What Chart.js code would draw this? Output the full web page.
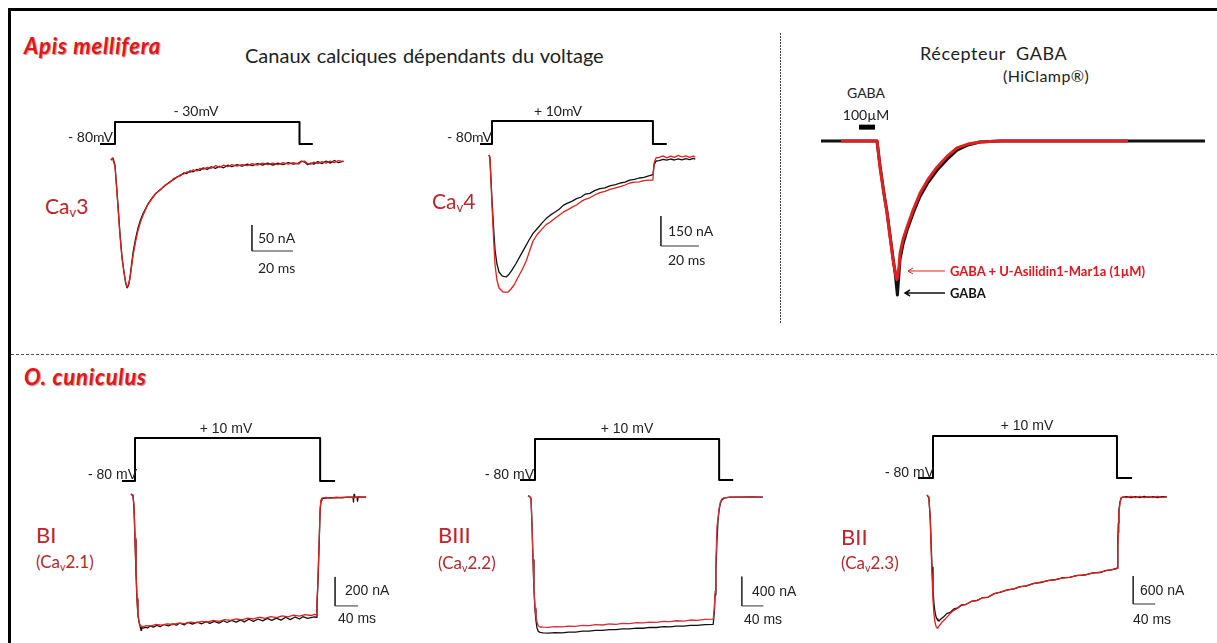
<!DOCTYPE html>
<html lang="fr">
<head>
<meta charset="utf-8">
<title>Canaux calciques et récepteur GABA</title>
<script src="https://cdn.jsdelivr.net/npm/chart.js@4.4.1/dist/chart.umd.min.js"></script>
<style>
  body { margin: 0; background: #fff; }
  #page { position: relative; width: 1217px; height: 643px; overflow: hidden; background: #fff; font-family: Lato, "Open Sans", sans-serif; }
  .rule { position: absolute; }
  .lbl { position: absolute; white-space: nowrap; line-height: 1; color: #222; }
  .lbl sub { font-size: 0.62em; vertical-align: -0.3em; line-height: 0; }
  .arial { font-family: "Liberation Sans", Arial, sans-serif; }
  .species { font-weight: 700; font-style: italic; color: #e3151c; letter-spacing: 0.8px; text-shadow: 1px 1px 1px rgba(90,0,0,0.45); }
  .chan { color: #b8262e; }
  canvas { position: absolute; }
</style>
</head>
<body>
<div id="page">
  <div class="rule" style="left:8px;top:8px;width:1209px;height:3px;background:#000"></div>
  <div class="rule" style="left:8px;top:8px;width:3px;height:635px;background:#000"></div>
  <div class="rule" style="left:11px;top:354px;width:1206px;height:1px;background:repeating-linear-gradient(90deg,#555 0 3px,transparent 3px 5px)"></div>
  <div class="rule" style="left:780px;top:33px;width:1px;height:290px;background:repeating-linear-gradient(180deg,#444 0 2px,transparent 2px 3px)"></div>
</div>

<script>
// ---- recordings: [time, current] ----
// Ca_v3 (ms, nA), step -80 -> -30 mV
const cav3Black = [[-2,0],[-1,4],[0,-10],[1.2,-72],[2.4,-140],[3.4,-186],[4.4,-216],[5.2,-237],[5.9,-246],[6.6,-241],[7.3,-226],[8.1,-200],[8.8,-178],[10,-152],[11.2,-131],[12.4,-116],[13.7,-103],[16,-85],[18.5,-71],[20,-64],[22,-57],[24.5,-49],[26.8,-42],[28.5,-38],[30.5,-32],[32,-30],[33.5,-25],[35,-26],[36.5,-21],[38,-23],[40,-18],[41.5,-20],[43,-15],[45,-18],[47,-13],[49,-16],[51,-12],[53,-15],[55,-10],[57,-13],[59.5,-9],[62,-12],[64.5,-8],[67,-11],[69.5,-7],[72,-10],[74.5,-6],[77,-10],[79.5,-6],[82,-9],[84.5,-5],[87,-8],[89.5,-6],[91,-2],[92.5,-4],[94,-9],[95.5,-6],[97,-8],[99,-3],[101,-7],[103,-2],[105,-6],[107,-1],[109,-5],[111.5,-2]];
const cav3Red = [[-2,0],[-1.2,3],[0,-12],[1.2,-76],[2.4,-144],[3.4,-188],[4.4,-216],[5.2,-235],[5.9,-244],[6.6,-240],[7.3,-228],[8.1,-205],[8.8,-184],[10,-158],[11.2,-136],[12.4,-120],[13.7,-106],[16,-86],[18.5,-72],[20,-64],[22,-58],[24.5,-48],[26.8,-43],[28.5,-36],[30.5,-33],[32,-28],[33.5,-27],[35,-23],[36.5,-24],[38,-19],[40,-21],[41.5,-16],[43,-18],[45,-14],[47,-16],[49,-11],[51,-14],[53,-10],[55,-13],[57,-9],[59.5,-12],[62,-9],[64.5,-11],[67,-7],[69.5,-10],[72,-6],[74.5,-9],[77,-6],[79.5,-9],[82,-5],[84.5,-8],[87,-5],[89.5,-8],[91,-3],[92.5,-2],[94,-7],[95.5,-8],[97,-4],[99,-7],[101,-3],[103,-6],[105,-2],[107,-5],[109,-1],[111.5,-3]];
const cav3Steps = [[-7.3,-80],[0,-80],[0,-30],[90,-30],[90,-80],[96.5,-80]];

// Ca_v4 (ms, nA), step -80 -> +10 mV
const cav4Black = [[-1.6,0],[-1.1,-15],[0,-225],[0.8,-360],[1.6,-475],[2.6,-545],[3.7,-585],[5.3,-604],[7.4,-610],[9,-596],[10.5,-576],[12.5,-545],[14.7,-507],[17,-468],[19.5,-425],[21.6,-392],[24,-366],[26.5,-338],[28.5,-318],[30.5,-302],[33,-286],[35.5,-270],[37.5,-252],[39.5,-242],[42,-232],[44.5,-218],[47,-210],[49,-196],[51.5,-192],[54,-178],[56.8,-168],[59.5,-164],[62,-154],[65,-148],[67.5,-140],[70,-136],[72.5,-126],[75,-122],[77.5,-115],[80,-112],[82.5,-104],[84.7,-98],[85.3,-50],[86.3,-30],[88,-28],[90,-22],[92,-26],[94,-20],[96,-25],[98,-19],[100,-24],[102,-18],[104,-23],[106,-17],[107,-21]];
const cav4Red = [[-1.6,0],[-1.1,-10],[0,-250],[0.8,-410],[1.6,-550],[2.6,-625],[3.7,-665],[5.8,-685],[8.4,-686],[10,-670],[11.6,-650],[13.5,-615],[15.8,-575],[18,-530],[19.8,-480],[21.6,-430],[24,-395],[26.5,-368],[28.5,-348],[30.5,-336],[33,-318],[35.5,-300],[37.5,-286],[39.5,-276],[42,-262],[44.5,-250],[47,-232],[49,-222],[51.5,-214],[54,-200],[56.8,-188],[59.5,-182],[62,-172],[65,-164],[67.5,-158],[70,-150],[72.5,-140],[75,-136],[77.5,-134],[80,-128],[82.5,-126],[84.7,-125],[85.3,-40],[86.3,-15],[88,-12],[90,-4],[92,-14],[94,-6],[96,-12],[98,-2],[100,-10],[102,-4],[104,-12],[106,-6],[107,-9]];
const cav4Steps = [[-6.3,-80],[0,-80],[0,10],[84.7,10],[84.7,-80],[92,-80]];

// GABA receptor (s, normalised current)
const gabaBlack = [[-1.9,0],[0.9,0],[1.05,-0.16],[1.25,-0.34],[1.4,-0.46],[1.55,-0.61],[1.7,-0.76],[1.82,-0.87],[1.88,-0.95],[1.92,-1.0],[1.96,-0.93],[2.05,-0.77],[2.2,-0.67],[2.4,-0.58],[2.7,-0.47],[3.05,-0.36],[3.45,-0.27],[3.9,-0.19],[4.4,-0.12],[4.9,-0.06],[5.45,-0.026],[6.05,-0.006],[7.05,0],[17.3,0]];
const gabaRed = [[-0.9,0],[0.9,0],[1.05,-0.17],[1.25,-0.35],[1.4,-0.47],[1.55,-0.62],[1.7,-0.77],[1.85,-0.88],[1.9,-0.9],[2.0,-0.82],[2.05,-0.73],[2.2,-0.64],[2.4,-0.56],[2.7,-0.45],[3.05,-0.34],[3.45,-0.25],[3.9,-0.17],[4.4,-0.1],[4.9,-0.045],[5.45,-0.02],[6.05,-0.006],[7.05,0],[13.45,0]];
const gabaPulse = [[0,0.09],[0.8,0.09]];

// BI / Ca_v2.1 (ms, nA)
const biBlack = [[-7,0],[-5,-7],[-3.5,-14],[-2,-80],[-1,-180],[0,-317],[1.7,-540],[3.5,-731],[5,-830],[7,-885],[9,-915],[10.5,-940],[11.5,-922],[14,-925],[18,-920],[22,-924],[26,-910],[32,-918],[38,-906],[44,-915],[50,-900],[58,-910],[66,-896],[72,-905],[78,-890],[86,-902],[92,-886],[100,-898],[108,-884],[116,-895],[124,-880],[130,-892],[138,-878],[146,-890],[154,-874],[160,-886],[168,-872],[176,-884],[184,-868],[190,-882],[198,-864],[206,-878],[214,-862],[222,-875],[230,-858],[238,-872],[246,-856],[254,-870],[262,-850],[270,-866],[278,-848],[286,-862],[292,-846],[300,-858],[306,-852],[312,-848],[315,-850],[316.5,-760],[318,-630],[320,-380],[322,-110],[323.5,-45],[325,-32],[332,-28],[340,-25],[350,-27],[360,-24],[370,-22],[379,-22],[380,-55],[381,-2],[382,-22],[386,-22],[387,-50],[388,-20],[395,-21],[402,-21]];
const biRed = [[-7,0],[-5.5,-6],[-3.5,-10],[-2,-70],[-1,-170],[0,-305],[1.7,-530],[3.5,-720],[5,-825],[7,-880],[9,-905],[11,-912],[14,-915],[20,-908],[28,-910],[36,-900],[46,-905],[56,-896],[66,-900],[76,-890],[86,-894],[96,-884],[106,-888],[116,-878],[126,-884],[136,-872],[146,-878],[156,-866],[166,-872],[176,-862],[186,-868],[196,-856],[206,-862],[216,-850],[226,-858],[236,-846],[246,-852],[256,-840],[266,-848],[276,-836],[286,-842],[296,-832],[306,-838],[312,-830],[315,-834],[316.5,-745],[318,-610],[320,-360],[322,-100],[323.5,-40],[325,-28],[332,-24],[340,-28],[350,-22],[360,-26],[370,-21],[380,-24],[390,-20],[402,-22]];
const biSteps = [[-22.6,-80],[0,-80],[0,10],[322,10],[322,-80],[348,-80]];

// BIII / Ca_v2.2 (ms, nA)
const biiiBlack = [[-13,0],[-10,-5],[-7.4,-41],[-5.5,-400],[-3.7,-873],[-2,-1250],[0,-1555],[1.8,-1700],[3.7,-1800],[6,-1845],[9.3,-1860],[15,-1866],[25,-1872],[37,-1864],[50,-1866],[62,-1856],[75,-1856],[88,-1844],[100,-1844],[112,-1832],[125,-1834],[138,-1822],[150,-1824],[162,-1812],[175,-1814],[188,-1802],[200,-1804],[212,-1792],[225,-1794],[238,-1782],[250,-1786],[262,-1774],[275,-1776],[288,-1764],[300,-1766],[315,-1754],[330,-1750],[332,-1600],[333.5,-1350],[335,-1000],[337,-600],[339,-330],[341,-191],[343.5,-95],[346,-55],[350,-30],[361,-14],[380,-16],[400,-12],[422,-14]];
const biiiRed = [[-13,0],[-10,-4],[-7.4,-27],[-5.5,-400],[-3.7,-873],[-2,-1230],[0,-1528],[1.8,-1650],[3.7,-1719],[6,-1770],[9.3,-1787],[15,-1790],[25,-1792],[37,-1782],[50,-1786],[62,-1774],[75,-1778],[88,-1764],[100,-1768],[112,-1756],[125,-1760],[138,-1746],[150,-1750],[162,-1738],[175,-1742],[188,-1728],[200,-1732],[212,-1720],[225,-1724],[238,-1710],[250,-1714],[262,-1702],[275,-1706],[288,-1692],[300,-1696],[315,-1684],[330,-1680],[332,-1530],[333.5,-1300],[335,-920],[337,-420],[339,-300],[341,-164],[343.5,-80],[346,-41],[350,-25],[361,-14],[380,-12],[400,-16],[422,-14]];
const biiiSteps = [[-27.8,-80],[0,-80],[0,10],[341,10],[341,-80],[367,-80]];

// BII / Ca_v2.3 (ms, nA)
const biiBlack = [[-11,0],[-7.5,-64],[-5,-500],[-3.6,-964],[-1.8,-1550],[0,-2034],[1.8,-2330],[3.6,-2505],[5.5,-2610],[7.3,-2655],[9,-2690],[10.9,-2698],[13,-2670],[16.4,-2634],[20,-2600],[25,-2540],[31,-2515],[38,-2440],[45,-2415],[52,-2352],[60,-2340],[70,-2280],[80,-2258],[90,-2200],[100,-2190],[111,-2112],[122,-2087],[135,-2030],[148,-2010],[158,-1962],[170,-1948],[183,-1892],[196,-1874],[210,-1828],[222,-1815],[235,-1772],[249,-1766],[262,-1722],[276,-1714],[290,-1668],[304,-1660],[315,-1612],[325,-1604],[333,-1572],[335,-1564],[336,-964],[337,-600],[338,-321],[340,-150],[342,-64],[345,-50],[352,-36],[360,-58],[368,-34],[376,-54],[384,-32],[392,-52],[400,-36],[408,-56],[416,-34],[425,-43]];
const biiRed = [[-11,0],[-7.5,-43],[-5,-520],[-3.6,-1071],[-1.8,-1700],[0,-2248],[1.8,-2560],[3.6,-2720],[5.5,-2810],[7.3,-2848],[9,-2840],[10.9,-2810],[12.7,-2780],[16.4,-2720],[21.8,-2660],[25,-2620],[31,-2540],[38,-2470],[45,-2425],[52,-2362],[60,-2345],[70,-2275],[80,-2262],[90,-2196],[100,-2186],[111,-2118],[122,-2080],[135,-2038],[148,-2004],[158,-1966],[170,-1944],[183,-1898],[196,-1868],[210,-1834],[222,-1810],[235,-1778],[249,-1760],[262,-1728],[276,-1708],[290,-1674],[304,-1654],[315,-1618],[325,-1598],[333,-1580],[335,-1570],[336,-1100],[337,-800],[338,-400],[340,-170],[342,-60],[345,-40],[352,-55],[360,-30],[368,-56],[376,-32],[384,-58],[392,-34],[400,-54],[408,-30],[416,-52],[425,-40]];
const biiSteps = [[-27.3,-80],[0,-80],[0,10],[334.5,10],[334.5,-80],[362,-80]];

const RED = '#e0201f';
const BLACK = '#111111';

// ---- panel layout: pixel origin and gain of each recording ----
const panels = [
  { box: [90, 95, 270, 205], x0: 115, pxX: 2.05, i0: 160, pxY: 0.52,
    black: cav3Black, red: cav3Red, steps: cav3Steps, vBase: 144, vTop: 122, vTest: -30,
    bar: { t: 66.8, i: -175, dt: 20, di: 50 }, lw: 1.3 },
  { box: [470, 95, 240, 210], x0: 492, pxX: 1.9, i0: 155, pxY: 0.2,
    black: cav4Black, red: cav4Red, steps: cav4Steps, vBase: 144, vTop: 121, vTest: 10,
    bar: { t: 88.9, i: -455, dt: 20, di: 150 }, lw: 1.3 },
  { box: [815, 110, 400, 195], x0: 859, pxX: 20, i0: 141, pxY: 154,
    black: gabaBlack, red: gabaRed, pulse: gabaPulse, lw: 3,
    arrows: [
      { from: [4.3, -0.844], to: [2.45, -0.844], color: RED, width: 1 },
      { from: [4.3, -0.987], to: [2.3, -0.987], color: BLACK, width: 1.5 }
    ] },
  { box: [110, 420, 270, 220], x0: 135, pxX: 0.575, i0: 494, pxY: 0.145,
    black: biBlack, red: biRed, steps: biSteps, vBase: 481, vTop: 438, vTest: 10,
    bar: { t: 348, i: -772, dt: 40, di: 200 }, lw: 1.3 },
  { box: [510, 420, 270, 220], x0: 535, pxX: 0.54, i0: 496, pxY: 0.0733,
    black: biiiBlack, red: biiiRed, steps: biiiSteps, vBase: 480, vTop: 439, vTest: 10,
    bar: { t: 383, i: -1500, dt: 40, di: 400 }, lw: 1.3, redColor: '#d2303a' },
  { box: [905, 415, 275, 225], x0: 933, pxX: 0.55, i0: 495, pxY: 0.0467,
    black: biiBlack, red: biiRed, steps: biiSteps, vBase: 478, vTop: 436, vTest: 10,
    bar: { t: 364, i: -2334, dt: 40, di: 600 }, lw: 1.3 }
];

// arrows pointing at the GABA peaks
const arrowPlugin = {
  id: 'arrows',
  afterDatasetsDraw(chart, args, opts) {
    const list = opts.list || [];
    const { ctx, scales: { x, y } } = chart;
    list.forEach(a => {
      const x1 = x.getPixelForValue(a.from[0]), y1 = y.getPixelForValue(a.from[1]);
      const x2 = x.getPixelForValue(a.to[0]), y2 = y.getPixelForValue(a.to[1]);
      ctx.save();
      ctx.strokeStyle = a.color;
      ctx.lineWidth = a.width;
      ctx.beginPath();
      ctx.moveTo(x1, y1);
      ctx.lineTo(x2, y2);
      ctx.moveTo(x2 + 5, y2 - 3);
      ctx.lineTo(x2, y2);
      ctx.lineTo(x2 + 5, y2 + 3);
      ctx.stroke();
      ctx.restore();
    });
  }
};

function line(data, color, width, axis) {
  return {
    data: data, borderColor: color, borderWidth: width, yAxisID: axis || 'y',
    pointRadius: 0, tension: 0, fill: false, borderJoinStyle: 'round'
  };
}

function buildPanel(p) {
  const [left, top, w, h] = p.box;
  const cv = document.createElement('canvas');
  cv.width = w; cv.height = h;
  cv.style.left = left + 'px';
  cv.style.top = top + 'px';
  document.getElementById('page').appendChild(cv);

  const scales = {
    x: { type: 'linear', display: false, min: (left - p.x0) / p.pxX, max: (left + w - p.x0) / p.pxX },
    y: { type: 'linear', display: false, min: (p.i0 - top - h) / p.pxY, max: (p.i0 - top) / p.pxY }
  };

  // red first so it sits on top of black
  const datasets = [
    line(p.red, p.redColor || RED, p.lw),
    line(p.black, BLACK, p.lw)
  ];

  if (p.steps) {
    const k = (p.vBase - p.vTop) / (p.vTest + 80);
    scales.yv = { type: 'linear', display: false, min: -80 - (top + h - p.vBase) / k, max: -80 + (p.vBase - top) / k };
    datasets.push(line(p.steps, '#000', 2, 'yv'));
  }
  if (p.bar) {
    const b = p.bar;
    datasets.push(line([[b.t, b.i + b.di], [b.t, b.i], [b.t + b.dt, b.i]], '#333', 1));
  }
  if (p.pulse) datasets.push(line(p.pulse, '#000', 5));

  new Chart(cv, {
    type: 'line',
    data: { datasets: datasets },
    options: {
      responsive: false, animation: false, events: [],
      layout: { padding: 0 },
      scales: scales,
      plugins: { legend: { display: false }, tooltip: { enabled: false }, arrows: { list: p.arrows || [] } }
    },
    plugins: [arrowPlugin]
  });
}

panels.forEach(buildPanel);

// ---- text: [x, centre y, html, css class, extra style, centred] ----
const labels = [
  [24, 46, 'Apis mellifera', 'species', 'font-size:22px'],
  [245, 55, 'Canaux calciques dépendants du voltage', '', 'font-size:20px;word-spacing:1px'],
  [920, 53, 'Récepteur&nbsp; GABA', '', 'font-size:18px;letter-spacing:0.6px'],
  [1003, 76, '(HiClamp®)', '', 'font-size:16px;letter-spacing:0.4px'],
  [196, 111, '- 30mV', '', 'font-size:14px', true],
  [68, 137, '- 80mV', '', 'font-size:14px'],
  [45, 205, 'Ca<sub>v</sub>3', 'chan', 'font-size:21px'],
  [258, 238, '50 nA', '', 'font-size:14px'],
  [258, 268, '20 ms', '', 'font-size:14px'],
  [558, 111, '+ 10mV', '', 'font-size:14px', true],
  [447, 137, '- 80mV', '', 'font-size:14px'],
  [432, 200, 'Ca<sub>v</sub>4', 'chan', 'font-size:21px'],
  [668, 231, '150 nA', '', 'font-size:14px'],
  [668, 260, '20 ms', '', 'font-size:14px'],
  [866, 93, 'GABA', '', 'font-size:14px', true],
  [866, 115, '100µM', '', 'font-size:14px', true],
  [950, 271, 'GABA + U-Asilidin1-Mar1a (1µM)', '', 'font-size:13px;font-weight:700;color:#e3151c'],
  [950, 293, 'GABA', '', 'font-size:13px;font-weight:700;color:#111'],

  [24, 377, 'O. cuniculus', 'species', 'font-size:22px'],
  [226, 428, '+ 10 mV', 'arial', 'font-size:14px', true],
  [88, 474, '- 80 mV', 'arial', 'font-size:14px'],
  [36, 535, 'BI', 'chan', 'font-size:22px'],
  [36, 561, '(Ca<sub>v</sub>2.1)', 'chan', 'font-size:17px'],
  [345, 590, '200 nA', 'arial', 'font-size:14px'],
  [338, 618, '40 ms', 'arial', 'font-size:14px'],
  [627, 428, '+ 10 mV', 'arial', 'font-size:14px', true],
  [485, 474, '- 80 mV', 'arial', 'font-size:14px'],
  [438, 535, 'BIII', 'chan', 'font-size:22px'],
  [438, 562, '(Ca<sub>v</sub>2.2)', 'chan', 'font-size:17px'],
  [752, 591, '400 nA', 'arial', 'font-size:14px'],
  [744, 619, '40 ms', 'arial', 'font-size:14px'],
  [1027, 425, '+ 10 mV', 'arial', 'font-size:14px', true],
  [885, 472, '- 80 mV', 'arial', 'font-size:14px'],
  [841, 537, 'BII', 'chan', 'font-size:22px'],
  [841, 562, '(Ca<sub>v</sub>2.3)', 'chan', 'font-size:17px'],
  [1140, 590, '600 nA', 'arial', 'font-size:14px'],
  [1133, 619, '40 ms', 'arial', 'font-size:14px']
];

labels.forEach(([x, y, html, cls, style, centred]) => {
  const el = document.createElement('div');
  el.className = 'lbl ' + cls;
  el.innerHTML = html;
  el.style.cssText = style + ';left:' + x + 'px;top:' + y + 'px;transform:translate(' + (centred ? '-50%' : '0') + ',-50%)';
  document.getElementById('page').appendChild(el);
});
</script>
</body>
</html>
